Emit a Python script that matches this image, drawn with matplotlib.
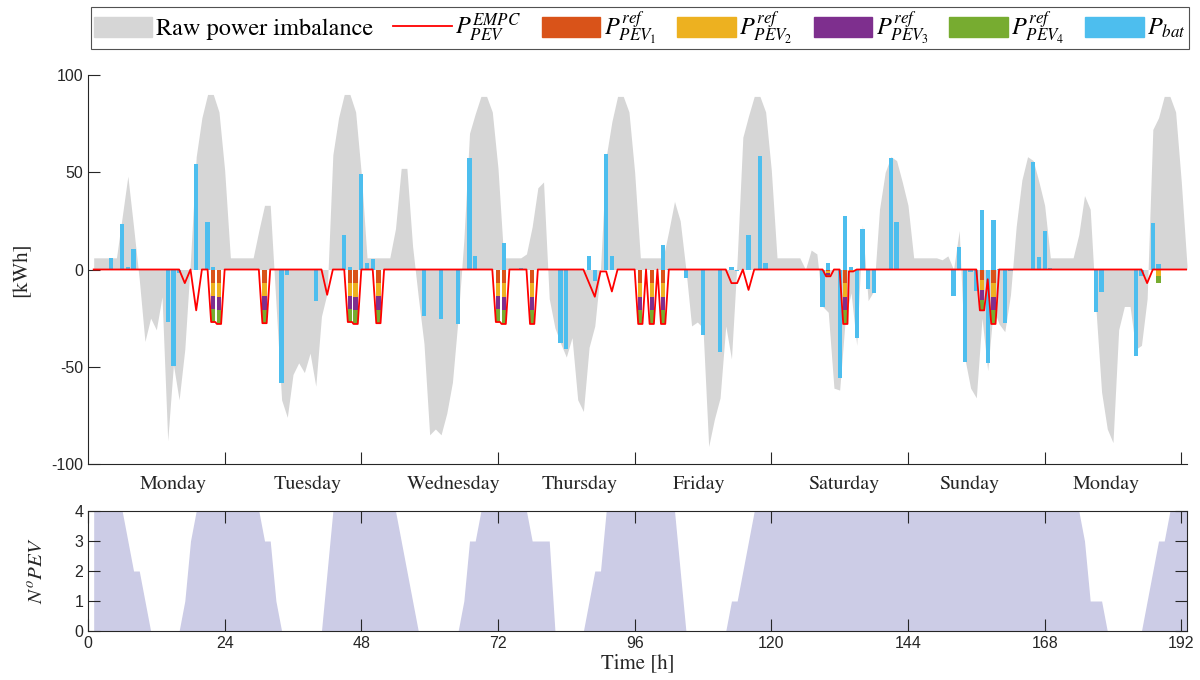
"""
power imbalance, EMPC charging and battery usage over one week
"""
import numpy as np
import matplotlib
matplotlib.use('Agg')
from matplotlib import pyplot as plt
from matplotlib.patches import Patch
from matplotlib.lines import Line2D

plt.rcParams['mathtext.fontset'] = 'stix'
plt.rcParams['font.family'] = 'Liberation Sans'
plt.rcParams['axes.unicode_minus'] = False

# hourly samples, h = 1 .. 193
hours = np.arange(1, 194)
imbalance = (
    [6, 6, 6, 6, 6, 27, 48, 22, -5, -37, -25, -31, -14, -88, -49, -67, -41, 5, 58, 78, 90, 90, 81, 51]
    + [6, 6, 6, 6, 6, 20, 33, 33, -17, -67, -76, -54, -48, -53, -43, -60, -24, -12, 59, 78, 90, 90, 81, 49]
    + [6, 6, 6, 6, 6, 21, 52, 52, 12, -14, -38, -85, -82, -85, -74, -58, -25, 15, 70, 80, 89, 89, 81, 52]
    + [6, 6, 6, 6, 8, 22, 42, 45, -15, -30, -38, -45, -35, -67, -73, -40, -29, 0, 58, 76, 89, 89, 81, 50]
    + [6, 6, 6, 6, 6, 20, 35, 25, 0, -29, -27, -30, -91, -77, -66, -29, -46, 5, 68, 79, 89, 89, 81, 51]
    + [6, 6, 6, 6, 6, 0, 10, 8, -19, -22, -61, -62, -25, -12, -39, 23, -16, -11, 31, 50, 58, 56, 45, 33]
    + [6, 6, 6, 6, 6, 5, 7, 0, 20, -46, -61, -66, -25, -52, -20, -28, -32, -13, 22, 46, 58, 56, 45, 33]
    + [6, 6, 6, 6, 6, 18, 38, 31, -20, -63, -82, -89, -31, -19, -19, -41, -39, -15, 72, 78, 89, 89, 81, 45, 2]
)

n_pev = (
    [4, 4, 4, 4, 4, 4, 3, 2, 2, 1, 0, 0, 0, 0, 0, 0, 1, 3, 4, 4, 4, 4, 4, 4]
    + [4, 4, 4, 4, 4, 4, 3, 3, 1, 0, 0, 0, 0, 0, 0, 0, 0, 2, 4, 4, 4, 4, 4, 4]
    + [4, 4, 4, 4, 4, 4, 3, 2, 1, 0, 0, 0, 0, 0, 0, 0, 0, 1, 3, 3, 4, 4, 4, 4]
    + [4, 4, 4, 4, 4, 3, 3, 3, 3, 0, 0, 0, 0, 0, 0, 1, 2, 2, 4, 4, 4, 4, 4, 4]
    + [4, 4, 4, 4, 4, 4, 4, 2, 0, 0, 0, 0, 0, 0, 0, 0, 1, 1, 2, 3, 4, 4, 4, 4]
    + [4] * 24
    + [4] * 24
    + [4, 4, 4, 4, 4, 4, 3, 1, 1, 1, 0, 0, 0, 0, 0, 0, 0, 1, 2, 3, 3, 4, 4, 4, 4]
)

# battery power
bat_hours = [4, 6, 7, 8, 14, 15, 16, 19, 21, 22,
             34, 35, 40, 45, 46, 48, 49, 50,
             59, 62, 65, 67, 68, 73, 76,
             83, 84, 88, 89, 91, 92,
             101, 102, 105, 108, 111, 113, 114, 116, 118, 119, 120,
             126, 129, 130, 132, 133, 134, 135, 136, 137, 138, 141, 142,
             152, 153, 154, 155, 156, 157, 158, 159, 160, 161, 162,
             166, 167, 168, 169,
             177, 178, 184, 185, 187, 188]
bat_values = [5.8, 23.5, 1.5, 10.6, -26.8, -49.5, -2, 54, 24.4, 1.2,
              -58.6, -2.7, -16.3, 17.9, 1.5, 49.3, 3.3, 5.3,
              -23.7, -25.4, -28, 57.4, 7, 13.6, 0.7,
              -37.6, -41, 7, -5.7, 59.5, 6.7,
              12.7, 0.5, -4.5, -33.7, -42.6, 1.5, -1, 17.9, 58.2, 3.3, 0.5,
              0.5, -19.4, 3.3, -56, 27.3, 1.5, -35.4, 20.8, -10, -11.9, 57.4, 24.4,
              -13.4, 11.5, -47.8, -1.2, -11.3, 30.8, -48.3, 25.6, 0.5, -27.7, -0.8,
              55.3, 6.2, 19.6, 0.7,
              -22, -11.8, -44.3, -3.5, 23.9, 2.9]

# reference power of each PEV
pev_hours = [22, 23, 31, 46, 47, 51, 72, 73, 78, 97, 99, 101, 130, 133, 134, 157, 159, 188]
pev1 = [-6.75, -7, -6.9, -6.75, -7, -6.9, -6.75, -7, -7, -7, -7, -7, -0.9, -7, -0.3, -5.2, -7, 0]
pev2 = [-6.75, -7, -6.9, -6.75, -7, -6.9, -6.75, -7, -7, -7, -7, -7, -0.9, -7, -0.3, -5.2, -7, -3.5]
pev3 = [-6.75, -7, -6.9, -6.75, -7, -6.9, -6.75, -7, -7, -7, -7, -7, -0.9, -7, -0.3, -5.2, -7, 0]
pev4 = [-6.75, -7, -6.9, -6.75, -7, -6.9, -6.75, -7, -7, -7, -7, -7, -0.9, -7, -0.3, -5.2, -7, -3.5]

# EMPC total PEV power (zero where not listed)
empc_hours = [17, 19, 22, 23, 31, 42, 46, 47, 51, 72, 73, 78, 88, 89, 90, 91, 92,
              97, 99, 101, 113, 114, 116, 130, 133, 134, 157, 158, 159, 186]
empc_values = [-7, -21, -27, -28, -27.6, -13, -27, -28, -27.6, -27, -28, -28, -7, -14, -1, -1, -11.3,
               -28, -28, -28, -7, -7, -10.5, -3.5, -28, -1, -21, -5, -28, -7]

day_names = ['Monday', 'Tuesday', 'Wednesday', 'Thursday', 'Friday', 'Saturday', 'Sunday', 'Monday']
day_pos = [15, 38.6, 64.2, 86.3, 107.4, 132.7, 154.8, 178.9]

c_gray = '#D6D6D6'
c_pev = ['#D95319', '#EDB120', '#7E2F8E', '#77AC30']
c_bat = '#4DBEEE'
c_axis = '#262626'
serif = 'STIXGeneral'
bar_w = 0.75

empc = np.zeros(len(hours))
empc[np.array(empc_hours) - 1] = empc_values

# the EMPC trace hugs the stacked bars: flat over the bar width at charging hours
line_x, line_y = [], []
for h, v in zip(hours, empc):
    if h in pev_hours and v != 0:
        line_x += [h - bar_w / 2, h + bar_w / 2]
        line_y += [v, v]
    else:
        line_x.append(h)
        line_y.append(v)

fig = plt.figure(figsize=(12, 6.8), dpi=100)
ax = fig.add_axes([88 / 1200, 1 - 464 / 680, 1099 / 1200, 389 / 680])
ax2 = fig.add_axes([88 / 1200, 1 - 631 / 680, 1099 / 1200, 120 / 680])

# top panel
ax.fill_between(hours, imbalance, 0, color=c_gray, lw=0)
ax.bar(bat_hours, bat_values, width=bar_w, color=c_bat, lw=0)
bottom = np.zeros(len(pev_hours))
for vals, col in zip([pev1, pev2, pev3, pev4], c_pev):
    ax.bar(pev_hours, vals, width=bar_w, bottom=bottom, color=col, lw=0)
    bottom = bottom + np.array(vals)
ax.plot(line_x, line_y, color='r', lw=1.3)

ax.set_xlim(0, 193)
ax.set_ylim(-100, 100)
ax.set_yticks([-100, -50, 0, 50, 100])
ax.set_xticks(range(24, 193, 24))
ax.set_xticklabels([])
ax.set_xticks(day_pos, minor=True)
ax.set_xticklabels(day_names, minor=True, fontfamily=serif, fontsize=14.5)
ax.tick_params(axis='x', which='minor', length=0, pad=8)
ax.tick_params(which='major', direction='in', length=8.5, width=0.8, colors=c_axis, labelsize=11.5)
ax.tick_params(axis='x', which='minor', colors=c_axis)
for s in ['top', 'right']:
    ax.spines[s].set_visible(False)
for s in ['left', 'bottom']:
    ax.spines[s].set_color(c_axis)
ax.set_ylabel('[kWh]', fontfamily=serif, fontsize=15, color=c_axis, labelpad=14)

# bottom panel
ax2.fill_between(hours, n_pev, 0, color='#CCCCE6', lw=0)
ax2.set_xlim(0, 193)
ax2.set_ylim(0, 4)
ax2.set_xticks(range(0, 193, 24))
ax2.set_yticks(range(0, 5))
ax2.tick_params(direction='in', length=8.5, width=0.8, colors=c_axis, labelsize=11.5,
                top=True, right=True)
for s in ax2.spines.values():
    s.set_color(c_axis)
ax2.set_xlabel('Time [h]', fontfamily=serif, fontsize=15, color=c_axis, labelpad=2)
ax2.set_ylabel(r'$N^oPEV$', fontsize=15, color=c_axis, labelpad=20)

# legend
handles = [Patch(color=c_gray), Line2D([], [], color='r', lw=1.3)]
handles += [Patch(color=c) for c in c_pev] + [Patch(color=c_bat)]
labels = ['Raw power imbalance', r'$P_{PEV}^{EMPC}$', r'$P_{PEV_1}^{ref}$', r'$P_{PEV_2}^{ref}$',
          r'$P_{PEV_3}^{ref}$', r'$P_{PEV_4}^{ref}$', r'$P_{bat}$']
leg = fig.legend(handles, labels, loc='center', bbox_to_anchor=(640 / 1200, 1 - 28 / 680), ncol=7,
                 frameon=True, fancybox=False, edgecolor=c_axis, handlelength=2.4, handleheight=0.9,
                 handletextpad=0.15, columnspacing=0.85, borderpad=0.1, borderaxespad=0,
                 prop={'family': serif, 'size': 17.5})
leg.get_frame().set_linewidth(0.8)

fig.savefig('out.png', dpi=100)
